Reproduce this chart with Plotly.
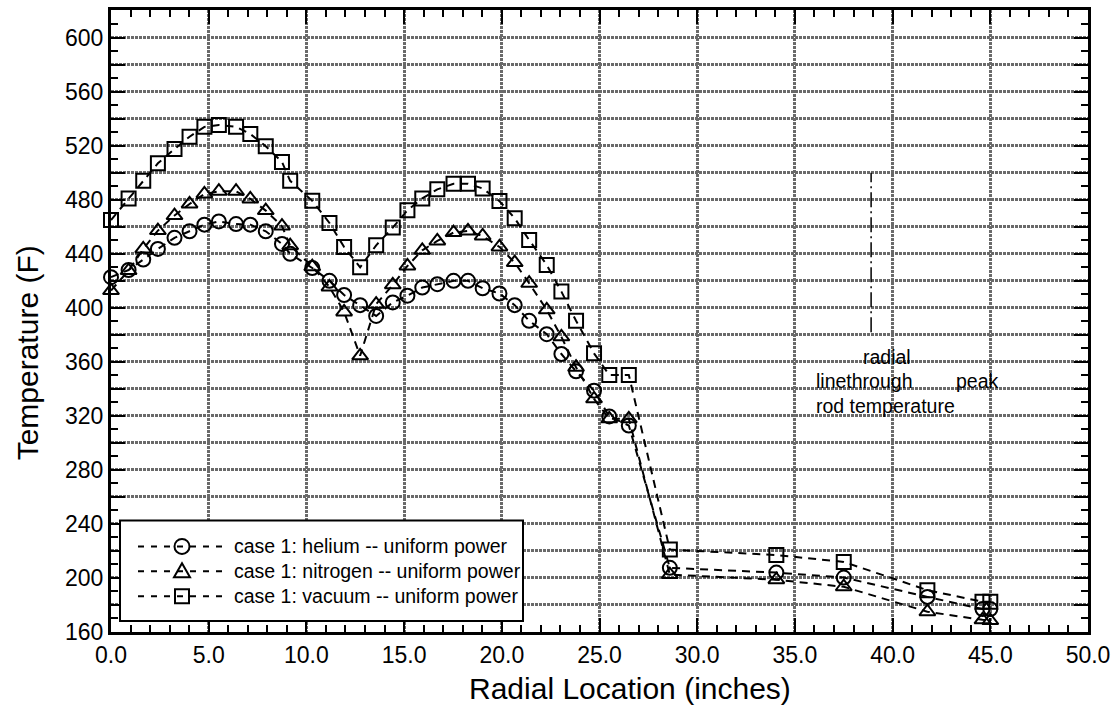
import plotly.graph_objects as go

# ---- data ----
radial_x = [0.0, 0.9, 1.65, 2.4, 3.25, 4.02, 4.78, 5.52, 6.4, 7.13, 7.92, 8.75, 9.17,
            10.3, 11.18, 11.93, 12.75, 13.57, 14.42, 15.17, 15.93, 16.7, 17.53, 18.27,
            19.02, 19.88, 20.66, 21.4, 22.3, 23.05, 23.8, 24.72, 25.5, 26.5,
            28.6, 34.05, 37.5, 41.78, 44.6, 45.0]

helium = [422.7, 428, 435.7, 443.6, 451.8, 456.7, 461.6, 464, 462, 461.6, 456.7, 447.3, 440,
          429.5, 420, 409.5, 402, 394, 404, 409, 415, 417.5, 420, 420,
          414.5, 410.6, 402, 390.4, 380.5, 365.8, 353, 338.7, 319.6, 312.9,
          207.5, 204, 200.3, 186, 177, 177]

nitrogen = [412.8, 427.6, 443.6, 457.2, 468.3, 476.9, 484.3, 486.3, 486.3, 480.6, 472, 460.5, 446,
            430.5, 415.5, 397, 364.5, 402.7, 417, 431, 442.6, 449.5, 455.7, 456.9,
            453.2, 445.1, 433.5, 418.2, 398.5, 378.5, 356, 332.6, 317.8, 317.8,
            202.5, 198.7, 193.5, 175, 169, 168.5]

vacuum = [465, 481, 494, 507, 517.6, 526.7, 534, 535.4, 534, 528.7, 519.6, 508, 494,
          479.2, 462.8, 445, 430, 446.3, 459.4, 472.2, 481, 487.7, 491.9, 491.9,
          488.4, 479, 466.3, 450.2, 431.8, 412, 390.4, 366.3, 350.3, 350.3,
          221, 217, 211.9, 191, 182.4, 182.4]

series_names = ["case 1: helium -- uniform power",
                "case 1: nitrogen -- uniform power",
                "case 1: vacuum -- uniform power"]
series_symbols = ["circle-open", "triangle-up-open", "square-open"]

peak_line_x = [38.9, 38.9]
peak_line_y = [382, 500]

x_ticks = [0, 5, 10, 15, 20, 25, 30, 35, 40, 45, 50]
y_ticks = list(range(160, 621, 20))
y_labels = [str(v) if (v - 160) % 40 == 0 else "" for v in y_ticks]

x_title = "Radial Location (inches)"
y_title = "Temperature (F)"

FONT = "Liberation Sans, Arial, sans-serif"

# ---- layout geometry (pixels) ----
W, H = 1119, 712
PL, PR, PT, PB = 111, 1088, 7, 632


def pxx(px):
    return (px - PL) / (PR - PL)


def pxy(py):
    return (PB - py) / (PB - PT)


fig = go.Figure()
for ys, name, sym in zip([helium, nitrogen, vacuum], series_names, series_symbols):
    fig.add_trace(go.Scatter(
        x=radial_x, y=ys, name=name, mode="lines+markers", showlegend=False,
        line=dict(color="black", width=2, dash="8px,6px"),
        marker=dict(symbol=sym, size=14, color="black", line=dict(color="black", width=2)),
        cliponaxis=False,
    ))

fig.add_trace(go.Scatter(
    x=peak_line_x, y=peak_line_y, mode="lines", showlegend=False,
    line=dict(color="black", width=1.5, dash="15px,4px,2px,4px"),
))

ann_font = dict(family=FONT, size=19.5, color="black")
fig.add_annotation(x=39.71, y=363.4, text="radial", showarrow=False, xanchor="center", yanchor="middle", font=ann_font)
fig.add_annotation(x=35.96, y=346.2, text="linethrough", showarrow=False, xanchor="left", yanchor="middle", font=ann_font)
fig.add_annotation(x=43.12, y=346.2, text="peak", showarrow=False, xanchor="left", yanchor="middle", font=ann_font)
fig.add_annotation(x=35.96, y=327, text="rod temperature", showarrow=False, xanchor="left", yanchor="middle", font=ann_font)

# ---- axis titles ----
title_font = dict(family=FONT, size=30, color="black")
fig.add_annotation(xref="paper", yref="paper", x=pxx(630), y=pxy(689), text=x_title,
                   showarrow=False, xanchor="center", yanchor="middle", font=title_font)
fig.add_annotation(xref="paper", yref="paper", x=pxx(27), y=pxy(352), text=y_title,
                   showarrow=False, xanchor="center", yanchor="middle", textangle=-90, font=title_font)

# ---- hand-drawn legend (box, dashed sample line, marker, label) ----
shapes = [dict(type="rect", xref="paper", yref="paper",
               x0=pxx(120), x1=pxx(523), y0=pxy(621), y1=pxy(520),
               fillcolor="white", line=dict(color="black", width=2), layer="above")]
row_y = [546, 571, 596]
mk_x = 182
for ry, sym, name in zip(row_y, series_symbols, series_names):
    shapes.append(dict(type="line", xref="paper", yref="paper",
                       x0=pxx(138), x1=pxx(228), y0=pxy(ry), y1=pxy(ry),
                       line=dict(color="black", width=2, dash="6px,7px"), layer="above"))
    common = dict(xref="paper", yref="paper", xsizemode="pixel", ysizemode="pixel",
                  xanchor=pxx(mk_x), yanchor=pxy(ry),
                  line=dict(color="black", width=2), fillcolor="rgba(0,0,0,0)", layer="above")
    if sym.startswith("circle"):
        shapes.append(dict(type="circle", x0=-7.5, x1=7.5, y0=-7.5, y1=7.5, **common))
    elif sym.startswith("square"):
        shapes.append(dict(type="rect", x0=-7, x1=7, y0=-7, y1=7, **common))
    else:
        shapes.append(dict(type="path", path="M-8,-6 L8,-6 L0,8 Z", **common))
    fig.add_annotation(xref="paper", yref="paper", x=pxx(232), y=pxy(ry), text=name,
                       showarrow=False, xanchor="left", yanchor="middle", font=ann_font)

grid_common = dict(showgrid=True, gridcolor="#6a6a6a", gridwidth=3, griddash="3px,1px",
                   showline=True, linecolor="black", linewidth=3, mirror="ticks",
                   ticks="inside", tickcolor="black", tickwidth=2, ticklen=14,
                   zeroline=False, tickfont=dict(family=FONT, size=23, color="black"))

fig.update_xaxes(range=[0, 50], tickmode="array", tickvals=x_ticks,
                 ticktext=[f"{v:.1f}" for v in x_ticks],
                 minor=dict(ticks="inside", dtick=1, ticklen=7, tickwidth=2, tickcolor="black", showgrid=False),
                 **grid_common)
fig.update_yaxes(range=[160, 620.5], tickmode="array", tickvals=y_ticks, ticktext=y_labels,
                 minor=dict(ticks="inside", tick0=160, dtick=10, ticklen=7, tickwidth=2, tickcolor="black", showgrid=False),
                 **grid_common)

fig.update_layout(
    width=W, height=H,
    margin=dict(l=PL, r=W - PR, t=PT, b=H - PB),
    paper_bgcolor="white", plot_bgcolor="white",
    showlegend=False,
    shapes=shapes,
    font=dict(family=FONT),
)

fig.write_html("out.html")
